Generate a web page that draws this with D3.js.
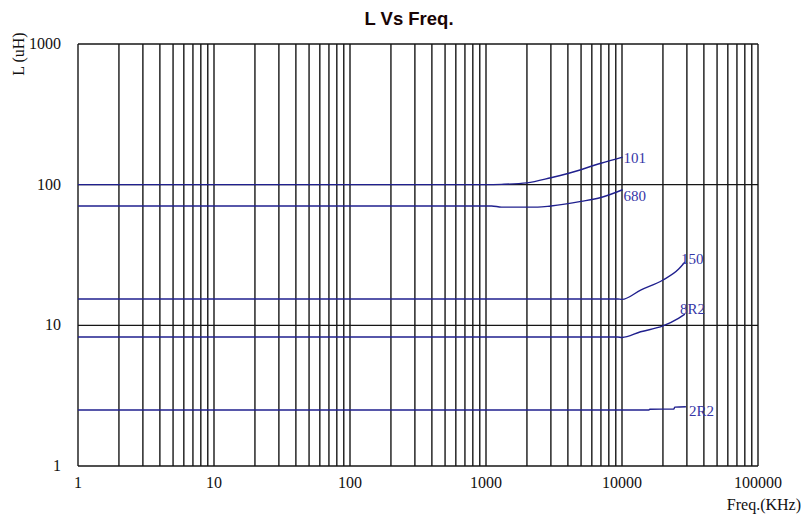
<!DOCTYPE html>
<html>
<head>
<meta charset="utf-8">
<script src="https://cdn.jsdelivr.net/npm/d3@7"></script>
<style>
  body { margin: 0; background: #fff; }
  svg { display: block; }
</style>
</head>
<body>
<svg id="canvas" width="804" height="516"></svg>
<script>
// tick labels
let xTicks = [1, 10, 100, 1000, 10000, 100000]
let yTicks = [1, 10, 100, 1000]

// series (freq in KHz, L in uH)
let names = ['101', '680', '150', '8R2', '2R2']
let freq101 = [1, 1000, 1300, 2000, 3000, 4000, 7000, 10100]
let ind101  = [100, 100, 100.5, 103, 112, 120, 142, 157]
let freq680 = [1, 1100, 1300, 2400, 3000, 5000, 7000, 10100]
let ind680  = [70.6, 70.6, 69.2, 69.2, 70.6, 76, 81, 92]
let freq150 = [1, 9300, 10000, 13700, 20000, 26000, 29000]
let ind150  = [15.4, 15.4, 15.3, 17.8, 21.0, 25.0, 28.2]
let freq8R2 = [1, 9300, 10000, 13700, 20000, 26000, 29000]
let ind8R2  = [8.27, 8.27, 8.2, 9.0, 9.9, 11.2, 12.0]
let freq2R2 = [1, 15700, 16000, 24000, 24500, 29500]
let ind2R2  = [2.5, 2.5, 2.53, 2.54, 2.62, 2.64]

let seriesFreq = [freq101, freq680, freq150, freq8R2, freq2R2]
let seriesInd = [ind101, ind680, ind150, ind8R2, ind2R2]

// where each curve label sits relative to the curve end
let labelShift = { '101': [1, 6], '680': [1, 11], '150': [-4, 2], '8R2': [-5, 0], '2R2': [3, 9] }

let canvas = d3.select('#canvas')

let x = d3.scaleLog().domain([1, 100000]).range([78, 758])
let y = d3.scaleLog().domain([1, 1000]).range([466, 44])

let gridColor = '#161616'
let blue = '#20208e'
let serif = 'Liberation Serif, serif'

// vertical grid: every 1..9 of each decade
let vLines = []
for (let p = 1; p <= 10000; p *= 10) {
    for (let k = 1; k <= 9; k++) vLines.push(k * p)
}
vLines.push(100000)

canvas.append('g').selectAll('line')
    .data(vLines)
    .enter()
    .append('line')
    .attr('x1', d => x(d))
    .attr('x2', d => x(d))
    .attr('y1', y(1000))
    .attr('y2', y(1))
    .attr('stroke', gridColor)
    .attr('stroke-width', 1.4)

// horizontal lines only at decades
canvas.append('g').selectAll('line')
    .data(yTicks)
    .enter()
    .append('line')
    .attr('x1', x(1))
    .attr('x2', x(100000))
    .attr('y1', d => y(d))
    .attr('y2', d => y(d))
    .attr('stroke', gridColor)
    .attr('stroke-width', 1.4)

// curves
let line = d3.line()
    .x(d => x(d[0]))
    .y(d => y(d[1]))
    .curve(d3.curveMonotoneX)

names.forEach((n, i) => {
    let pts = seriesFreq[i].map((f, j) => [f, seriesInd[i][j]])
    canvas.append('path')
        .attr('d', line(pts))
        .attr('fill', 'none')
        .attr('stroke', blue)
        .attr('stroke-width', 1.4)

    let last = pts[pts.length - 1]
    canvas.append('text')
        .attr('x', x(last[0]) + labelShift[n][0])
        .attr('y', y(last[1]) + labelShift[n][1])
        .attr('font-family', serif)
        .attr('font-size', 15)
        .attr('fill', '#3535a6')
        .text(n)
})

// axis labels
canvas.append('g').selectAll('text')
    .data(xTicks)
    .enter()
    .append('text')
    .attr('x', d => x(d))
    .attr('y', 488)
    .attr('text-anchor', 'middle')
    .attr('font-family', serif)
    .attr('font-size', 16)
    .attr('fill', '#111')
    .text(d => d)

canvas.append('g').selectAll('text')
    .data(yTicks)
    .enter()
    .append('text')
    .attr('x', 61)
    .attr('y', d => y(d) + 5)
    .attr('text-anchor', 'end')
    .attr('font-family', serif)
    .attr('font-size', 16)
    .attr('fill', '#111')
    .text(d => d)

canvas.append('text')
    .attr('x', 801)
    .attr('y', 510)
    .attr('text-anchor', 'end')
    .attr('font-family', serif)
    .attr('font-size', 16)
    .attr('fill', '#111')
    .text('Freq.(KHz)')

canvas.append('text')
    .attr('transform', 'translate(24,54) rotate(-90)')
    .attr('text-anchor', 'middle')
    .attr('font-family', serif)
    .attr('font-size', 16)
    .attr('fill', '#111')
    .text('L (uH)')

// title
canvas.append('text')
    .attr('x', 409)
    .attr('y', 25)
    .attr('text-anchor', 'middle')
    .attr('font-family', 'Liberation Sans, Arial, sans-serif')
    .attr('font-weight', 'bold')
    .attr('font-size', 18.5)
    .attr('fill', '#1a0505')
    .text('L Vs Freq.')
</script>
</body>
</html>
